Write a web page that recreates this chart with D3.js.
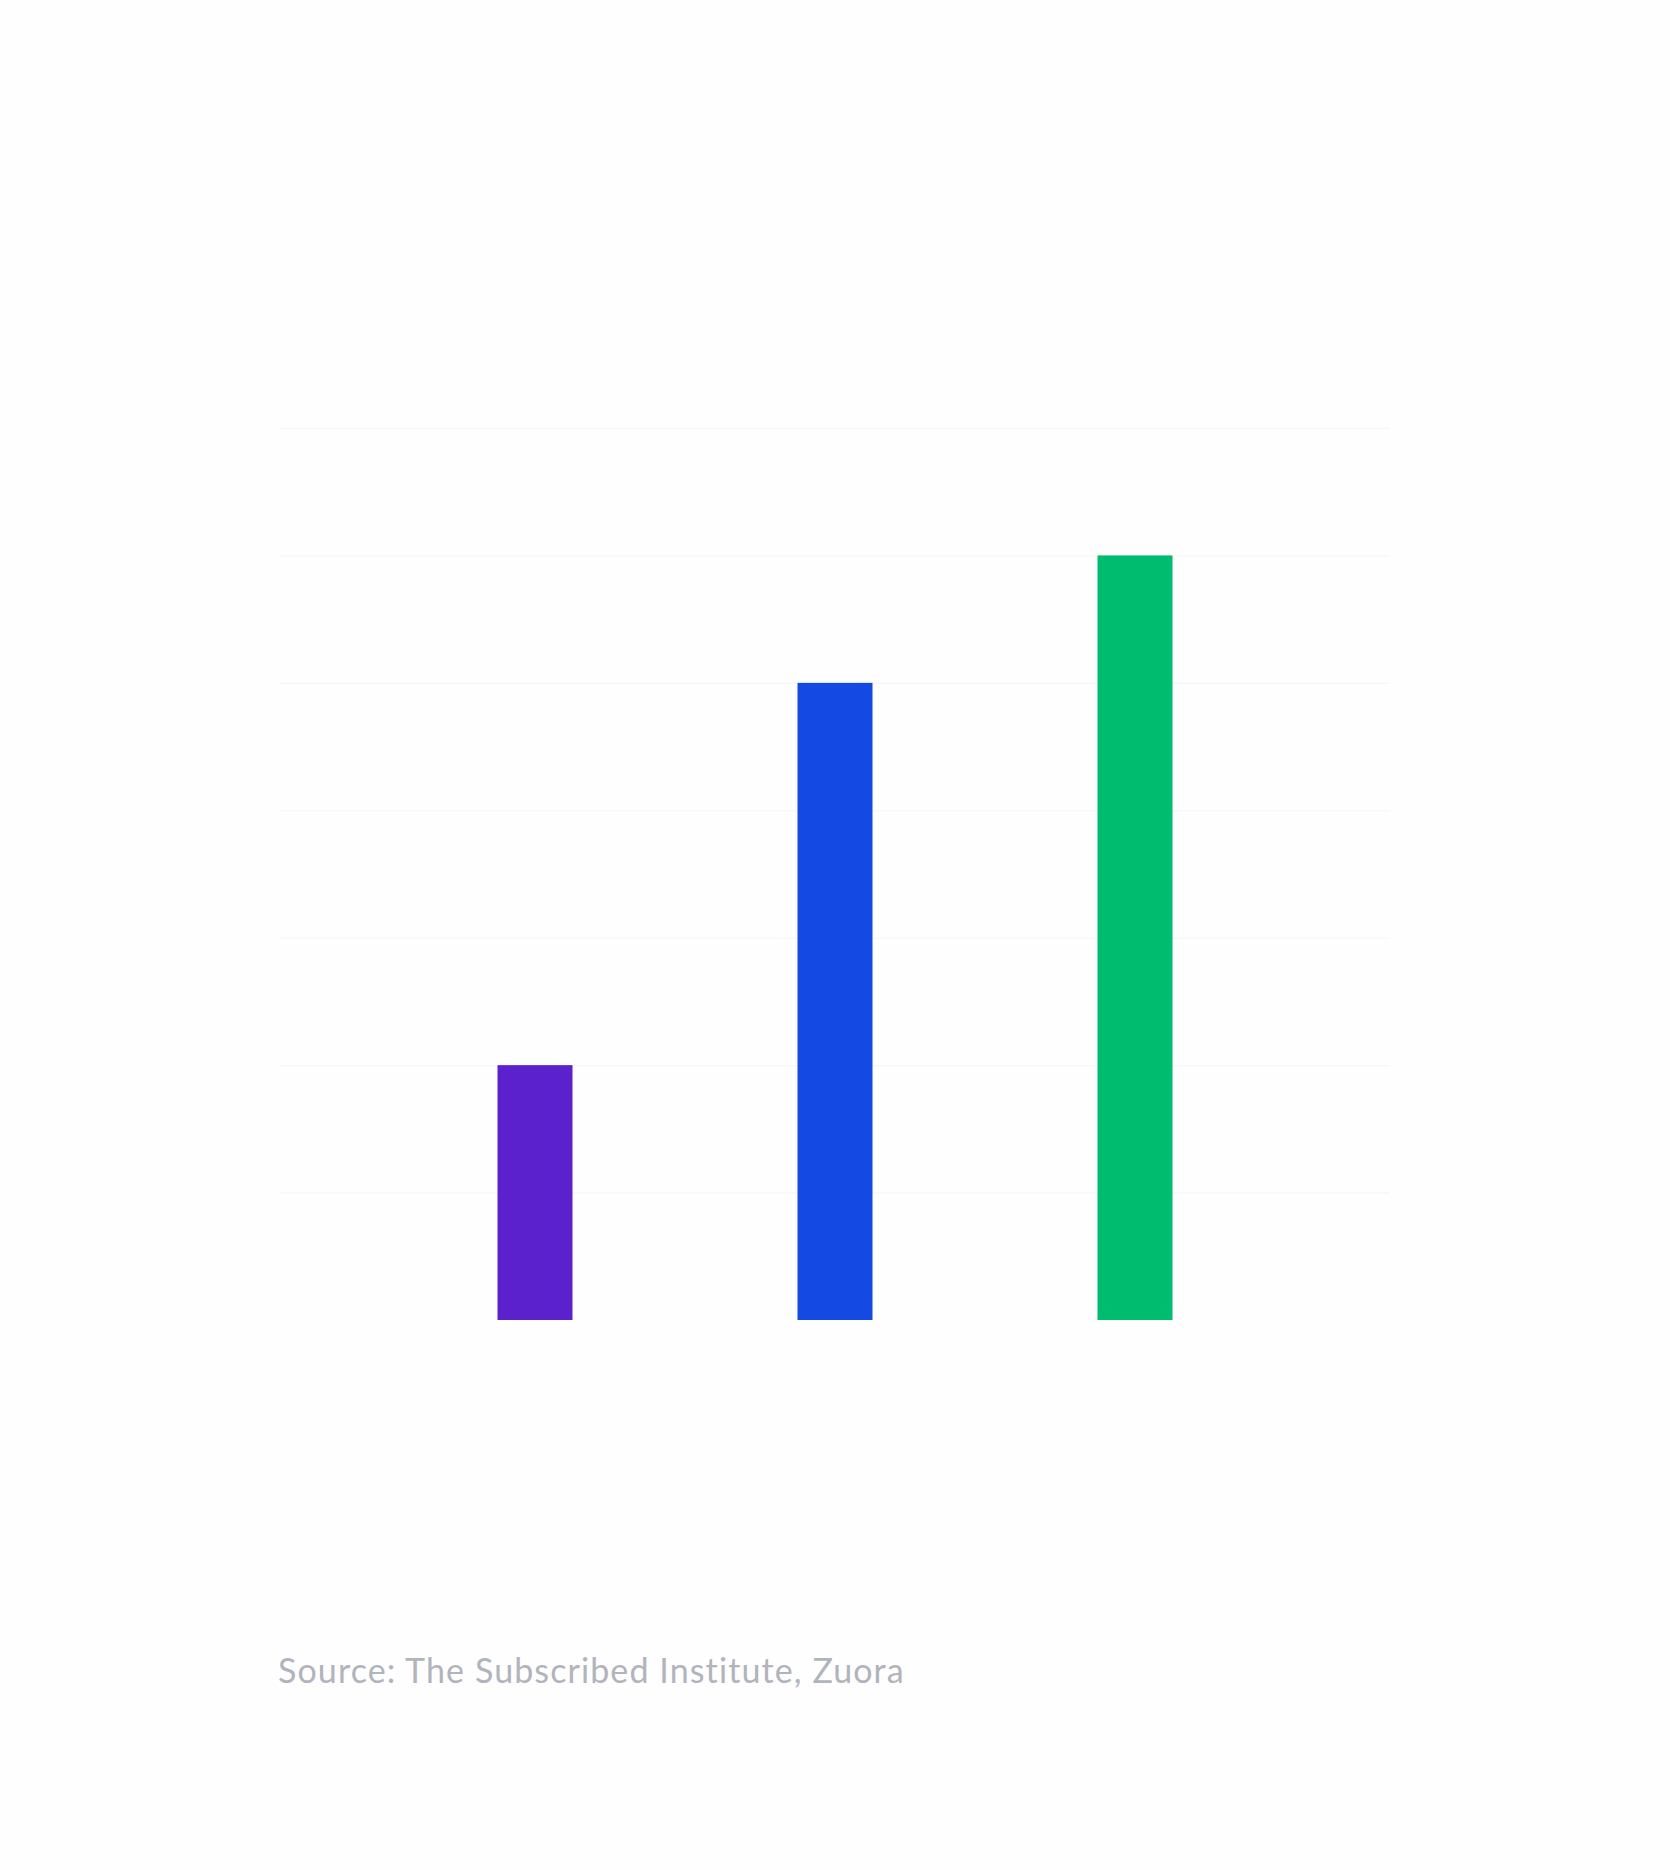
<!DOCTYPE html>
<html>
<head>
<meta charset="utf-8">
<script src="https://cdn.jsdelivr.net/npm/d3@7"></script>
<style>
  body { margin: 0; background: #fefefe; }
  svg { display: block; }
</style>
</head>
<body>
<svg></svg>
<script>
// data (no labels shown, heights in grid steps of 10)
let categories = ['A', 'B', 'C'];
let values = [20, 50, 60];
let colors = ['#5b21cc', '#1449e3', '#00bc6f'];
let gridTicks = [0, 10, 20, 30, 40, 50, 60, 70];
let sourceText = 'Source: The Subscribed Institute, Zuora';

let svgWidth = 1670, svgHeight = 1870;
let plotLeft = 280, plotRight = 1390, plotTop = 428, plotBottom = 1320;

let svg = d3.select('svg')
    .attr('width', svgWidth)
    .attr('height', svgHeight);

let x = d3.scaleBand()
    .domain(categories)
    .range([plotLeft, plotRight])
    .paddingInner(0.75)
    .paddingOuter(0.725);

let y = d3.scaleLinear()
    .domain([0, 70])
    .range([plotBottom, plotTop]);

// very faint gridlines
svg.append('g')
    .attr('transform', 'translate(' + plotLeft + ',0)')
    .call(d3.axisLeft(y)
        .tickValues(gridTicks.slice(1))
        .tickSize(-(plotRight - plotLeft))
        .tickFormat(''))
    .call(g => g.select('.domain').remove())
    .call(g => g.selectAll('.tick line')
        .attr('stroke', '#f7f7f8')
        .attr('stroke-width', 1.5));

svg.selectAll('rect.bar')
    .data(values)
    .enter()
    .append('rect')
    .attr('class', 'bar')
    .attr('x', (d, i) => x(categories[i]))
    .attr('y', d => y(d))
    .attr('width', x.bandwidth())
    .attr('height', d => y(0) - y(d))
    .attr('fill', (d, i) => colors[i]);

svg.append('text')
    .attr('x', 278)
    .attr('y', 1683)
    .attr('font-family', 'Lato, "Noto Sans", sans-serif')
    .attr('font-size', 34)
    .attr('letter-spacing', 1.1)
    .attr('fill', '#b1b3bd')
    .text(sourceText);
</script>
</body>
</html>
